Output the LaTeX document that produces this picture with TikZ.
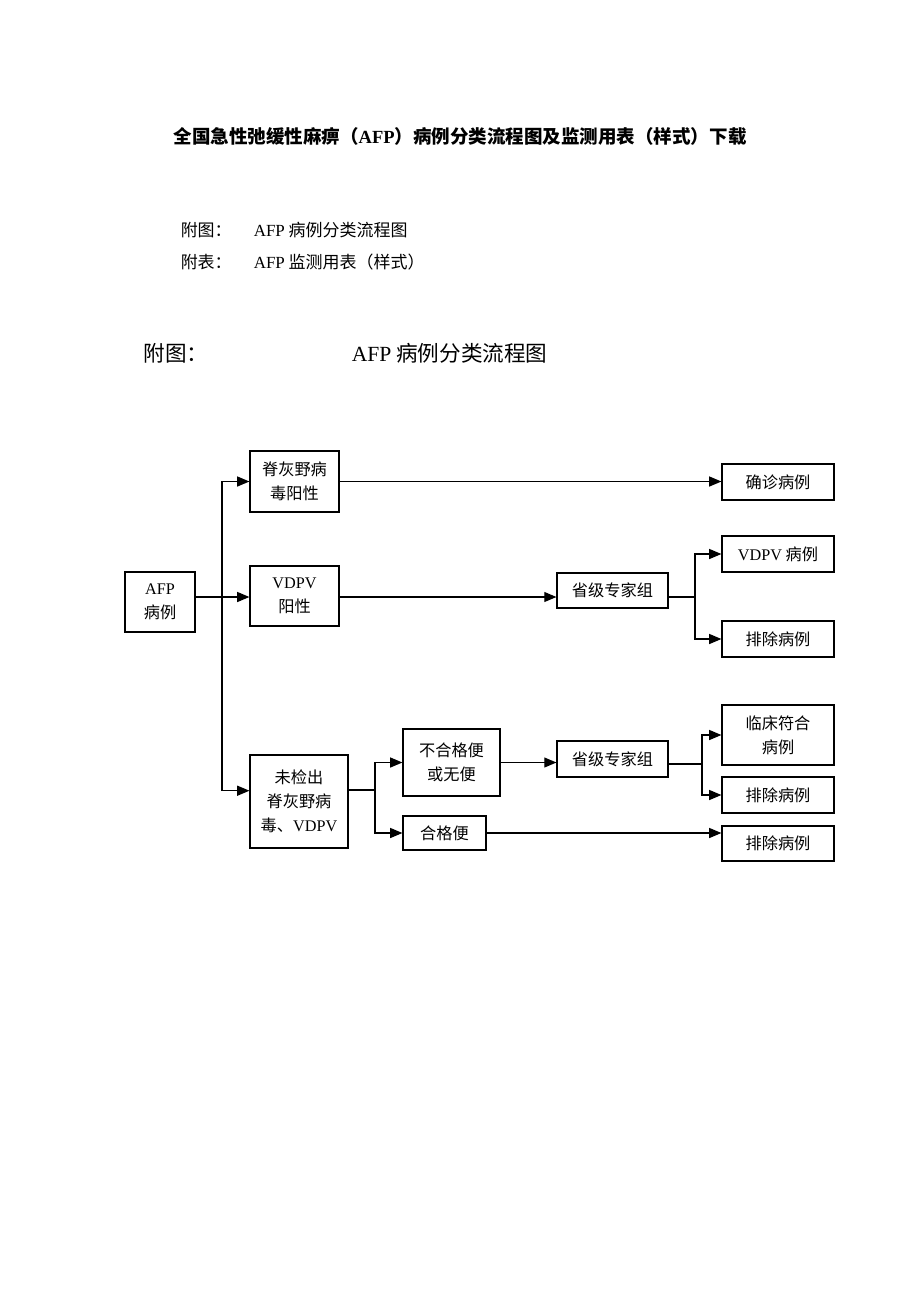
\documentclass[tikz,border=0pt]{standalone}
\usepackage{fontspec}
\setmainfont{Liberation Serif}
\newfontfamily\zh{Noto Sans CJK SC}
\usetikzlibrary{positioning, arrows}

\begin{document}
\begin{tikzpicture}[x=0.648pt, y=-0.648pt,
					>=triangle 45,
					line width=0.8pt,
					box/.style={draw, rectangle, inner sep=0pt, align=center,
						font=\zh\fontsize{10.5}{15.5}\selectfont},
					every text node part/.style={align=center}]

	\useasboundingbox (0,0) rectangle (920,1302);

	\node[font=\zh\bfseries\fontsize{12}{14}\selectfont] (title) at (460,136)
		{全国急性弛缓性麻痹（{\rmfamily\bfseries AFP}）病例分类流程图及监测用表（样式）下载};
	\node[anchor=west, font=\zh\fontsize{11}{13}\selectfont] (fig1) at (175,230) {附图：};
	\node[anchor=west, font=\zh\fontsize{11}{13}\selectfont] (fig1t) at (248,230) {{\rmfamily AFP} 病例分类流程图};
	\node[anchor=west, font=\zh\fontsize{11}{13}\selectfont] (tab1) at (175,262) {附表：};
	\node[anchor=west, font=\zh\fontsize{11}{13}\selectfont] (tab1t) at (248,262) {{\rmfamily AFP} 监测用表（样式）};
	\node[anchor=west, font=\zh\fontsize{14}{16}\selectfont] (head) at (138,353) {附图：};
	\node[anchor=west, font=\zh\fontsize{14}{16}\selectfont] (headt) at (346,353) {{\rmfamily AFP} 病例分类流程图};

	\node[box, minimum width=45.4pt, minimum height=38.9pt] (afp) at (160,602) {{\rmfamily AFP}\\病例};
	\node[box, minimum width=57.7pt, minimum height=39.5pt] (wild) at (294.5,481.5) {脊灰野病\\毒阳性};
	\node[box, minimum width=57.7pt, minimum height=38.9pt] (vdpv) at (294.5,596) {{\rmfamily VDPV}\\阳性};
	\node[box, minimum width=63.5pt, minimum height=60.3pt] (none) at (299,801.5) {未检出\\脊灰野病\\毒、{\rmfamily VDPV}};
	\node[box, minimum width=62.9pt, minimum height=43.4pt] (bad) at (451.5,762.5) {不合格便\\或无便};
	\node[box, minimum width=53.8pt, minimum height=22pt] (good) at (444.5,833) {合格便};
	\node[box, minimum width=71.9pt, minimum height=22.7pt] (prova) at (612.5,590.5) {省级专家组};
	\node[box, minimum width=71.9pt, minimum height=23.3pt] (provb) at (612.5,759) {省级专家组};
	\node[box, minimum width=72.6pt, minimum height=23.3pt] (conf) at (778,482) {确诊病例};
	\node[box, minimum width=72.6pt, minimum height=23.3pt] (vdpvcase) at (778,554) {{\rmfamily VDPV} 病例};
	\node[box, minimum width=72.6pt, minimum height=23.3pt] (exa) at (778,639) {排除病例};
	\node[box, minimum width=72.6pt, minimum height=38.9pt] (clin) at (778,735) {临床符合\\病例};
	\node[box, minimum width=72.6pt, minimum height=23.3pt] (exb) at (778,795) {排除病例};
	\node[box, minimum width=72.6pt, minimum height=22.7pt] (exc) at (778,843.5) {排除病例};

	\coordinate (trunk) at (222,597);
	\coordinate (splita) at (695,597);
	\coordinate (splitb) at (375,790);
	\coordinate (splitc) at (702,764);

	\draw[->] (afp.east |- trunk) -- (vdpv.west |- trunk);
	\draw[->] (trunk) |- (wild.west);
	\draw[->] (trunk) |- ([yshift=7pt]none.west);
	\draw[->] (wild.east) -- (wild.east -| conf.west);
	\draw[->] (vdpv.east |- trunk) -- (prova.west |- trunk);
	\draw (prova.east |- splita) -- (splita);
	\draw[->] (splita) |- (vdpvcase.west);
	\draw[->] (splita) |- (exa.west);
	\draw (none.east |- splitb) -- (splitb);
	\draw[->] (splitb) |- (bad.west);
	\draw[->] (splitb) |- (good.west);
	\draw[->] (bad.east) -- (bad.east -| provb.west);
	\draw (provb.east |- splitc) -- (splitc);
	\draw[->] (splitc) |- (clin.west);
	\draw[->] (splitc) |- (exb.west);
	\draw[->] (good.east) -- (good.east -| exc.west);
\end{tikzpicture}
\end{document}
